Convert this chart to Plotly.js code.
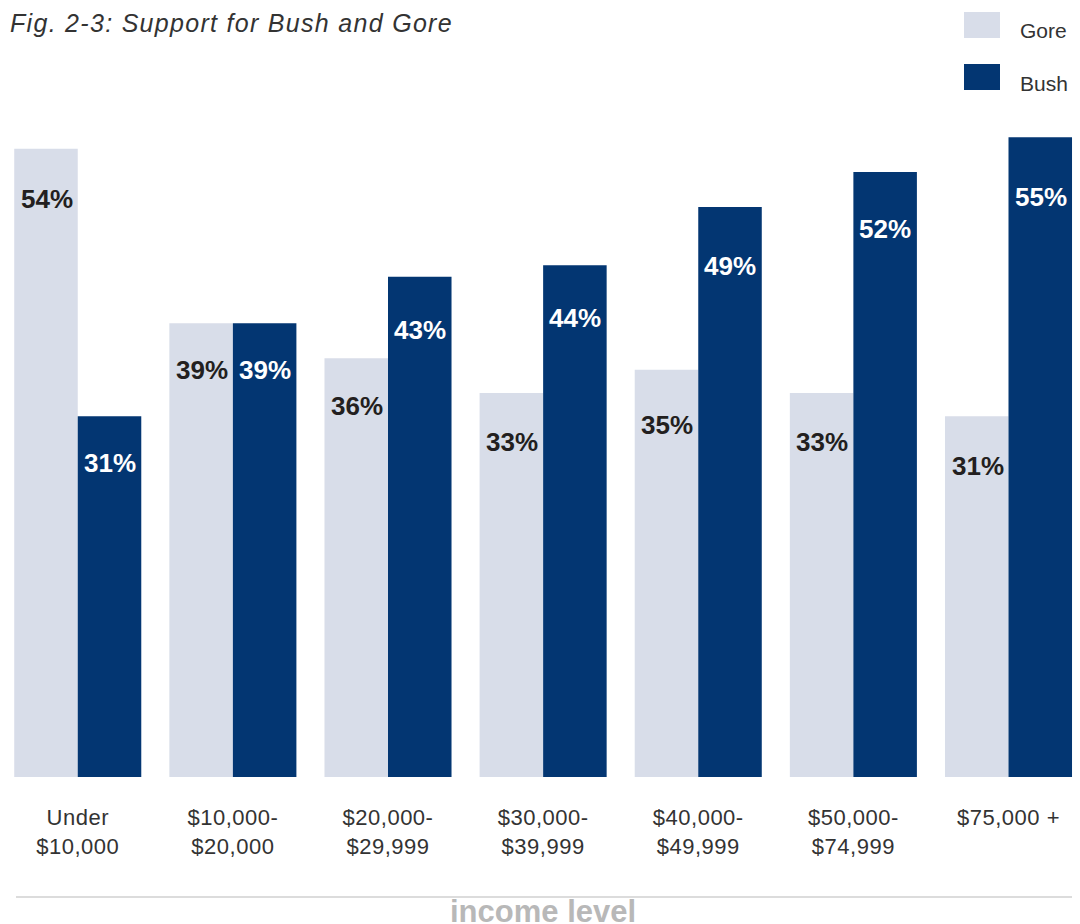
<!DOCTYPE html>
<html>
<head>
<meta charset="utf-8">
<script src="https://cdn.plot.ly/plotly-3.0.1.min.js"></script>
<style>
html,body{margin:0;padding:0;background:#fff;}
#chart{width:1080px;height:924px;}
#chart .gtitle{letter-spacing:1.3px;}
#chart .xtick text{letter-spacing:0.5px;}
</style>
</head>
<body>
<div id="chart"></div>
<script>
const categories = ["Under<br>$10,000", "$10,000-<br>$20,000", "$20,000-<br>$29,999", "$30,000-<br>$39,999", "$40,000-<br>$49,999", "$50,000-<br>$74,999", "$75,000 +"];
const gore = [54, 39, 36, 33, 35, 33, 31];
const bush = [31, 39, 43, 44, 49, 52, 55];
const seriesNames = ["Gore", "Bush"];
const titleText = "Fig. 2-3: Support for Bush and Gore";
const axisLabel = "income level";

// label placement (pixels below bar top) - styling only
const goreLabelDrop = [50, 47, 48, 49, 55, 49, 50];
const bushLabelDrop = [47, 47, 53, 53, 59, 57, 60];

const goreColor = "#d8dde9";
const bushColor = "#033672";
const idx = categories.map((c, i) => i);

const W = 1080, H = 924, mT = 79, mB = 147;
const plotH = H - mT - mB;
const py = p => (H - mB - p) / plotH; // pixel y -> paper y
const px = p => p / W;
const FONT = "Liberation Sans, Arial, sans-serif";

const traces = [
  {type: "bar", name: seriesNames[0], x: idx, y: gore, marker: {color: goreColor}, hoverinfo: "skip"},
  {type: "bar", name: seriesNames[1], x: idx, y: bush, marker: {color: bushColor}, hoverinfo: "skip"}
];

const annotations = [];
const labelFont = {family: FONT, size: 26, weight: "bold"};
gore.forEach((v, i) => annotations.push({x: i, y: v, xref: "x", yref: "y", text: v + "%", showarrow: false,
  xshift: -31, yshift: -goreLabelDrop[i], yanchor: "middle", xanchor: "center", font: Object.assign({color: "#231f20"}, labelFont)}));
bush.forEach((v, i) => annotations.push({x: i, y: v, xref: "x", yref: "y", text: v + "%", showarrow: false,
  xshift: 32, yshift: -bushLabelDrop[i], yanchor: "middle", xanchor: "center", font: Object.assign({color: "#ffffff"}, labelFont)}));

// legend text
annotations.push({xref: "paper", yref: "paper", x: px(1018), y: py(30), xanchor: "left", yanchor: "middle",
  text: seriesNames[0], showarrow: false, font: {family: FONT, size: 21, color: "#333"}});
annotations.push({xref: "paper", yref: "paper", x: px(1018), y: py(84), xanchor: "left", yanchor: "middle",
  text: seriesNames[1], showarrow: false, font: {family: FONT, size: 21, color: "#333"}});
// axis label
annotations.push({xref: "paper", yref: "paper", x: px(543), y: py(924), xanchor: "center", yanchor: "bottom", yshift: -7,
  text: axisLabel, showarrow: false, font: {family: FONT, size: 31, weight: "bold", color: "#b8b8b8"}});

const shapes = [
  {type: "rect", xref: "paper", yref: "paper", x0: px(964), x1: px(1000), y0: py(38), y1: py(12), fillcolor: goreColor, line: {width: 0}},
  {type: "rect", xref: "paper", yref: "paper", x0: px(964), x1: px(1000), y0: py(90), y1: py(64), fillcolor: bushColor, line: {width: 0}},
  {type: "line", xref: "paper", yref: "paper", x0: px(16), x1: px(1072), y0: py(897), y1: py(897), line: {color: "#dcdcdc", width: 2}}
];

const spacing = (1008.5 - 77.75) / 6;
const layout = {
  width: W, height: H,
  margin: {l: 0, r: 0, t: mT, b: mB, pad: 0},
  paper_bgcolor: "#fff", plot_bgcolor: "#fff",
  showlegend: false,
  barmode: "group", bargap: 0.181, bargroupgap: 0,
  title: {text: titleText, x: px(10), xanchor: "left", xref: "paper", yref: "container", y: 1 - 23 / H, yanchor: "middle",
    font: {family: FONT, size: 25, style: "italic", color: "#333"}},
  xaxis: {range: [-77.75 / spacing, (W - 77.75) / spacing], tickvals: idx, ticktext: categories, showgrid: false, zeroline: false,
    showline: false, ticks: "", ticklabelstandoff: 25, tickfont: {family: FONT, size: 22, color: "#333"}, fixedrange: true},
  yaxis: {range: [0, 60], visible: false, showgrid: false, zeroline: false, fixedrange: true},
  annotations: annotations,
  shapes: shapes
};

Plotly.newPlot("chart", traces, layout, {displayModeBar: false, staticPlot: true});
</script>
</body>
</html>
